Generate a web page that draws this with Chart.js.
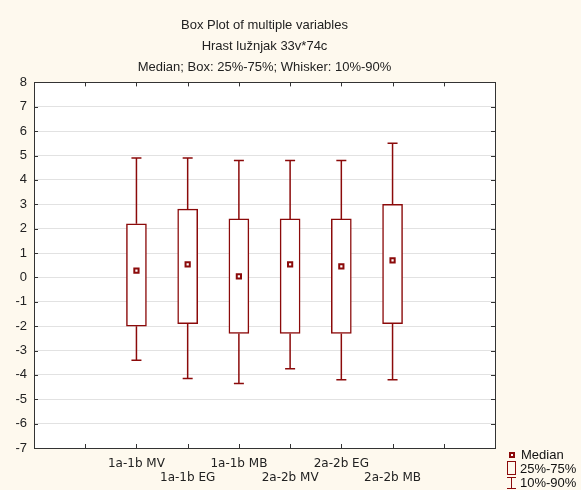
<!DOCTYPE html>
<html>
<head>
<meta charset="utf-8">
<script src="https://cdn.jsdelivr.net/npm/chart.js@4.4.1/dist/chart.umd.min.js"></script>
<style>
  html, body { margin: 0; padding: 0; background: #fef9ee; }
  #wrap { width: 581px; height: 490px; position: relative; }
</style>
</head>
<body>
<div id="wrap"><canvas id="boxChart"></canvas></div>
<script>
// categories sit on x positions 2..7 of a 0..9 axis
const categories = ['1a-1b MV', '1a-1b EG', '1a-1b MB', '2a-2b MV', '2a-2b EG', '2a-2b MB'];
const positions = [2, 3, 4, 5, 6, 7];
const p10 = [-3.4, -4.15, -4.35, -3.75, -4.2, -4.2];
const q25 = [-2.0, -1.9, -2.3, -2.3, -2.3, -1.9];
const medians = [0.28, 0.53, 0.04, 0.53, 0.45, 0.7];
const q75 = [2.2, 2.8, 2.4, 2.4, 2.4, 3.0];
const p90 = [4.9, 4.9, 4.8, 4.8, 4.8, 5.5];
const yTicks = [-7, -6, -5, -4, -3, -2, -1, 0, 1, 2, 3, 4, 5, 6, 7, 8];

const RED = '#8b0a0a';

const boxData = positions.map((x, i) => ({ x: x, y: [q25[i], q75[i]] }));
const whiskerData = [];
positions.forEach((x, i) => {
    whiskerData.push({ x: x, y: q75[i] }, { x: x, y: p90[i] }, { x: x, y: null });
    whiskerData.push({ x: x, y: q25[i] }, { x: x, y: p10[i] }, { x: x, y: null });
});
const capData = [];
positions.forEach((x, i) => {
    capData.push({ x: x, y: p90[i] }, { x: x, y: p10[i] });
});
const medianData = positions.map((x, i) => ({ x: x, y: medians[i] }));

// white plot area, frame, inner ticks and the legend
const framePlugin = {
    id: 'frame',
    beforeDraw(chart) {
        const a = chart.chartArea, ctx = chart.ctx;
        ctx.save();
        ctx.fillStyle = '#ffffff';
        ctx.fillRect(a.left, a.top, a.right - a.left, a.bottom - a.top);
        ctx.restore();
    },
    afterDraw(chart) {
        const a = chart.chartArea, ctx = chart.ctx;
        const xs = chart.scales.x, ys = chart.scales.y;
        ctx.save();
        ctx.strokeStyle = '#333333';
        ctx.lineWidth = 1;
        ctx.strokeRect(Math.round(a.left) + 0.5, Math.round(a.top) + 0.5,
            Math.round(a.right - a.left), Math.round(a.bottom - a.top));
        ctx.beginPath();
        for (let v = 1; v <= 8; v++) {
            const px = Math.round(xs.getPixelForValue(v)) + 0.5;
            ctx.moveTo(px, a.bottom); ctx.lineTo(px, a.bottom - 4);
            ctx.moveTo(px, a.top); ctx.lineTo(px, a.top + 4);
        }
        yTicks.forEach(v => {
            const py = Math.round(ys.getPixelForValue(v)) + 0.5;
            ctx.moveTo(a.left, py); ctx.lineTo(a.left + 4, py);
            ctx.moveTo(a.right, py); ctx.lineTo(a.right - 4, py);
        });
        ctx.stroke();

        // legend
        ctx.fillStyle = RED;
        ctx.fillRect(509, 452, 6, 6);
        ctx.fillStyle = '#ffffff';
        ctx.fillRect(511, 454, 2, 2);
        ctx.strokeStyle = RED;
        ctx.lineWidth = 1;
        ctx.strokeRect(507.5, 461.5, 8, 13);
        ctx.beginPath();
        ctx.moveTo(507, 477.5); ctx.lineTo(516, 477.5);
        ctx.moveTo(511.5, 477.5); ctx.lineTo(511.5, 488.5);
        ctx.moveTo(507, 488.5); ctx.lineTo(516, 488.5);
        ctx.stroke();
        ctx.fillStyle = '#111111';
        ctx.font = '13px "Liberation Sans", Arial, sans-serif';
        ctx.textBaseline = 'middle';
        ctx.fillText('Median', 521, 455);
        ctx.fillText('25%-75%', 520, 469);
        ctx.fillText('10%-90%', 520, 483);
        ctx.restore();
    }
};

new Chart(document.getElementById('boxChart'), {
    type: 'bar',
    data: {
        datasets: [
            {
                type: 'scatter',
                data: medianData,
                pointStyle: 'rect',
                pointRadius: 3,
                pointBackgroundColor: '#ffffff',
                pointBorderColor: RED,
                pointBorderWidth: 2,
                order: 0
            },
            {
                type: 'scatter',
                data: capData,
                pointStyle: 'line',
                pointRadius: 5,
                pointBorderColor: RED,
                pointBorderWidth: 1.5,
                order: 1
            },
            {
                type: 'line',
                data: whiskerData,
                borderColor: RED,
                borderWidth: 1.5,
                pointRadius: 0,
                spanGaps: false,
                order: 2
            },
            {
                type: 'bar',
                data: boxData,
                backgroundColor: '#ffffff',
                borderColor: RED,
                borderWidth: 1.5,
                borderSkipped: false,
                barThickness: 20,
                grouped: false,
                order: 3
            }
        ]
    },
    options: {
        responsive: true,
        maintainAspectRatio: false,
        animation: false,
        layout: { padding: { left: 0, right: 86, top: 0, bottom: 0 } },
        plugins: {
            legend: { display: false },
            tooltip: { enabled: false },
            title: {
                display: true,
                fullSize: false,
                text: ['Box Plot of multiple variables', 'Hrast lužnjak 33v*74c', 'Median; Box: 25%-75%; Whisker: 10%-90%'],
                color: '#222222',
                font: { family: '"Liberation Sans", Arial, sans-serif', size: 13, weight: 'normal', lineHeight: 1.6 },
                padding: { top: 15, bottom: 5 }
            }
        },
        scales: {
            x: {
                type: 'linear',
                min: 0,
                max: 9,
                offset: false,
                afterFit(scale) { scale.height = 42; },
                afterBuildTicks(scale) {
                    scale.ticks = [0, 1, 2, 3, 4, 5, 6, 7, 8, 9].map(v => ({ value: v }));
                },
                grid: { display: false, drawTicks: false, offset: false },
                border: { display: false },
                ticks: {
                    autoSkip: false,
                    maxRotation: 0,
                    padding: 9,
                    color: '#222222',
                    font: { family: '"DejaVu Sans", Verdana, sans-serif', size: 12, lineHeight: 1.17 },
                    callback(value) {
                        const i = positions.indexOf(value);
                        if (i < 0) return '';
                        return i % 2 === 0 ? categories[i] : ['', categories[i]];
                    }
                }
            },
            y: {
                type: 'linear',
                min: -7,
                max: 8,
                afterFit(scale) { scale.width = 34; },
                afterBuildTicks(scale) {
                    scale.ticks = yTicks.map(v => ({ value: v }));
                },
                grid: { color: '#e2e2e2', drawTicks: false },
                border: { display: false },
                ticks: {
                    padding: 7,
                    color: '#222222',
                    font: { family: '"Liberation Sans", Arial, sans-serif', size: 13 },
                    callback(value) { return String(value); }
                }
            }
        }
    },
    plugins: [framePlugin]
});
</script>
</body>
</html>
